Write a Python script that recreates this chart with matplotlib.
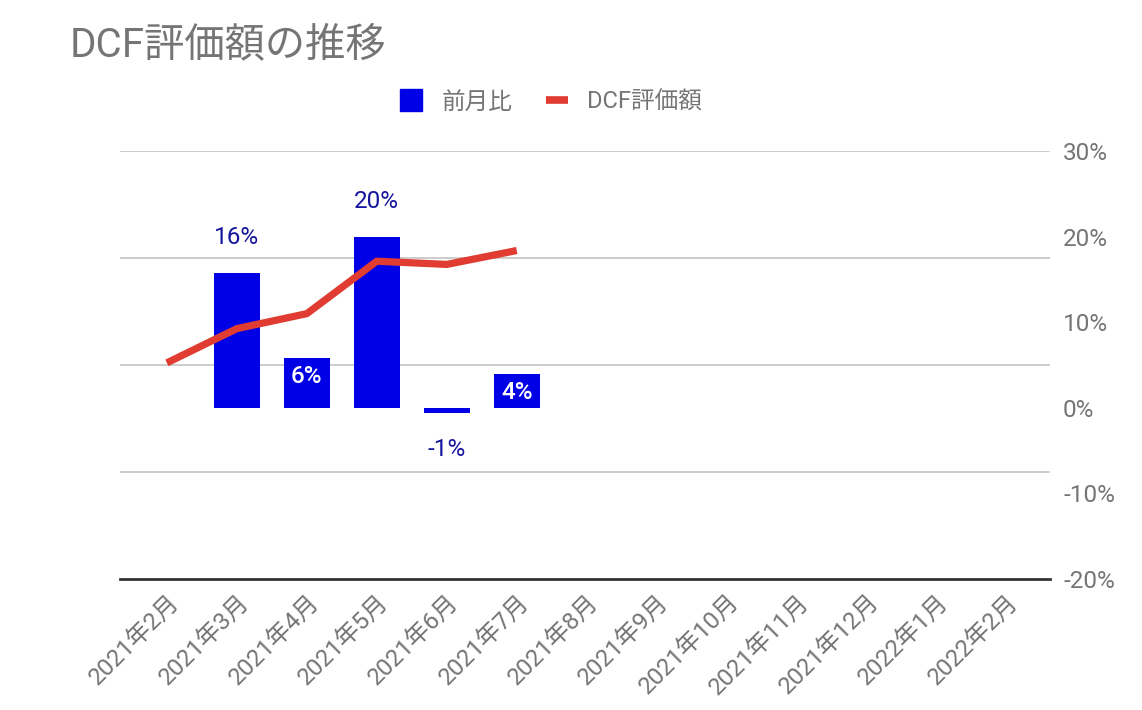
import matplotlib
matplotlib.use("Agg")
import matplotlib.pyplot as plt
import matplotlib.transforms as mtransforms
from matplotlib.lines import Line2D

plt.rcParams['font.family'] = ['Roboto', 'Noto Sans CJK JP', 'DejaVu Sans']

# ---- data ----
months = ["2021年2月", "2021年3月", "2021年4月", "2021年5月", "2021年6月", "2021年7月",
          "2021年8月", "2021年9月", "2021年10月", "2021年11月", "2021年12月",
          "2022年1月", "2022年2月"]
mom_months = ["2021年3月", "2021年4月", "2021年5月", "2021年6月", "2021年7月"]
mom_pct = [15.8, 5.8, 20.0, -0.6, 3.9]          # 前月比 (%)
dcf_months = ["2021年2月", "2021年3月", "2021年4月", "2021年5月", "2021年6月", "2021年7月"]
dcf_values = [2.02, 2.34, 2.48, 2.97, 2.94, 3.07]  # DCF評価額 (hidden left axis units)
right_ticks = [-20, -10, 0, 10, 20, 30]
left_ticks = [0, 1, 2, 3, 4]

# ---- style ----
BLUE = '#0000e6'
LABEL_BLUE = '#15159e'
RED = '#e03c31'
GREY = '#757575'
GRID = '#cccccc'
FS = 17.5

W, H = 1142, 710
fig = plt.figure(figsize=(W / 100, H / 100), dpi=100)
rect = [120 / W, 1 - 579 / H, (1050 - 120) / W, (579 - 151) / H]

idx = {m: i for i, m in enumerate(months)}

# grid axes (scale of the hidden left axis)
ax_grid = fig.add_axes(rect)
ax_grid.set_xlim(-0.67, 12.62)
ax_grid.set_ylim(left_ticks[0], left_ticks[-1])

# bar axes (right)
ax_bar = ax_grid.twinx()
# line axes (hidden left scale), drawn on top
ax_line = ax_grid.twinx()

ax_grid.set_yticks(left_ticks)
ax_grid.tick_params(axis='y', left=False, right=False, labelleft=False, length=0)
for v in left_ticks[1:]:
    ax_grid.axhline(v, color=GRID, lw=1.4, zorder=0)
ax_grid.axhline(left_ticks[0], color='#333333', lw=2.0, zorder=5, clip_on=False)
for s in ax_grid.spines.values():
    s.set_visible(False)
ax_grid.set_xticks(range(len(months)))
ax_grid.set_xticklabels(months, rotation=45, ha='right', va='center',
                        rotation_mode='anchor', color=GREY, fontsize=FS)
ax_grid.tick_params(axis='x', length=0, pad=13)
shift = mtransforms.ScaledTranslation(9 / 100, -2 / 100, fig.dpi_scale_trans)
for lab in ax_grid.get_xticklabels():
    lab.set_transform(lab.get_transform() + shift)

ax_bar.set_ylim(right_ticks[0], right_ticks[-1])
ax_bar.set_yticks(right_ticks)
ax_bar.set_yticklabels([f"{t}%" for t in right_ticks], color=GREY, fontsize=FS)
ax_bar.tick_params(axis='y', right=False, left=False, length=0, pad=9.4)
for s in ax_bar.spines.values():
    s.set_visible(False)
bx = [idx[m] for m in mom_months]
ax_bar.bar(bx, mom_pct, width=0.66, color=BLUE, zorder=2)
for x, v in zip(bx, mom_pct):
    txt = f"{v:.0f}%"
    if v >= 10:
        ax_bar.annotate(txt, (x, v), xytext=(0, 25), textcoords='offset points',
                        ha='center', va='center', color=LABEL_BLUE, fontsize=FS)
    elif v >= 0:
        ax_bar.annotate(txt, (x, v), xytext=(0, -13), textcoords='offset points',
                        ha='center', va='center', color='white', fontsize=FS,
                        fontweight='medium')
    else:
        ax_bar.annotate(txt, (x, v), xytext=(0, -26.5), textcoords='offset points',
                        ha='center', va='center', color=LABEL_BLUE, fontsize=FS)

ax_line.set_ylim(left_ticks[0], left_ticks[-1])
ax_line.axis('off')
lx = [idx[m] for m in dcf_months]
ax_line.plot(lx, dcf_values, color=RED, lw=5.2, solid_capstyle='butt', zorder=3)

# title
fig.text(70 / W, 1 - 45 / H, "DCF評価額の推移", fontsize=29, color=GREY,
         ha='left', va='center')

# legend
handles = [Line2D([], [], marker='s', linestyle='none', markersize=16.5,
                  markerfacecolor=BLUE, markeredgecolor=BLUE),
           Line2D([], [], color=RED, lw=5.5, solid_capstyle='butt')]
fig.legend(handles, ["前月比", "DCF評価額"], loc='center',
           bbox_to_anchor=(551 / W, 1 - 102 / H), ncol=2, frameon=False,
           fontsize=17, labelcolor=GREY, handlelength=0.95, handletextpad=0.8,
           columnspacing=1.4)

fig.savefig("out.png", dpi=100)
